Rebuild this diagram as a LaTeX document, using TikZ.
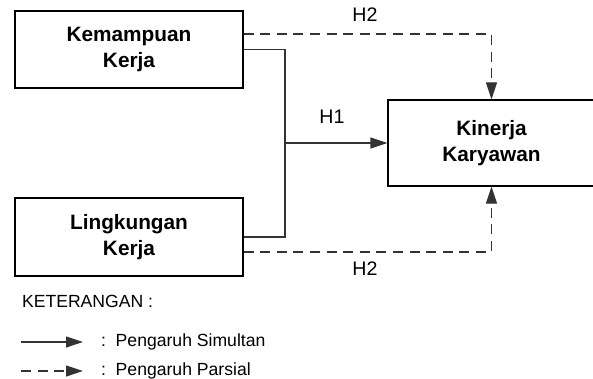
\documentclass[tikz,border=0pt]{standalone}
\usepackage{fontspec}
\setmainfont{Liberation Sans}
\usepackage{tikz}
\usetikzlibrary{arrows.meta,positioning}

\begin{document}
\begin{tikzpicture}[x=0.5pt, y=-0.5pt,
  var/.style={draw, line width=0.6pt, align=center, inner sep=0pt,
    font=\fontsize{10.4}{13}\selectfont\bfseries},
  hlab/.style={font=\fontsize{9.8}{12}\selectfont},
  ket/.style={font=\fontsize{8.8}{11}\selectfont},
  simul/.style={line width=0.6pt, draw=black!80, -{Triangle[length=8.5pt,width=5.5pt]}},
  parsial/.style={simul, dash pattern=on 5pt off 3.3pt}]
  \clip (0,0) rectangle (593,379);

  % variabel
  \node[var, minimum width=114pt, minimum height=38.5pt] (km) at (129,49.5) {Kemampuan\\Kerja};
  \node[var, minimum width=114pt, minimum height=39pt] (lk) at (129,237) {Lingkungan\\Kerja};
  \node[var, minimum width=103.5pt, minimum height=43pt] (kk) at (491.5,143) {Kinerja\\Karyawan};

  % H1: pengaruh simultan
  \coordinate (junc) at (285,143);
  \draw[line width=0.6pt, draw=black!80] (km.east) -| (junc) |- (lk.east);
  \draw[simul] (junc) -- (kk.west);
  \node[hlab] (h1) at (332,117) {H1};

  % H2: pengaruh parsial
  \draw[parsial] ([yshift=7.75pt]km.east) -| (kk.north);
  \draw[parsial] ([yshift=-7.5pt]lk.east) -| (kk.south);
  \node[hlab] (h2a) at (365,15) {H2};
  \node[hlab] (h2b) at (365,269) {H2};

  % keterangan
  \node[ket, anchor=west] (ket) at (15,301) {KETERANGAN :};
  \coordinate (s1) at (21,342); \coordinate (s2) at (83,342);
  \coordinate (p1) at (21,371); \coordinate (p2) at (83,371);
  \draw[simul] (s1) -- (s2);
  \draw[parsial] (p1) -- (p2);
  \node[ket, anchor=west] (lsim) at (94,342) {:\ \ Pengaruh Simultan};
  \node[ket, anchor=west] (lpar) at (94,371) {:\ \ Pengaruh Parsial};
\end{tikzpicture}
\end{document}
